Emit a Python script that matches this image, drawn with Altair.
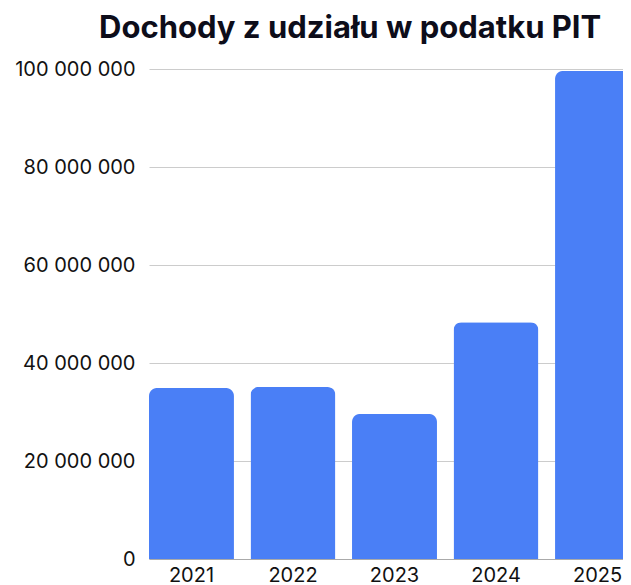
import altair as alt
import pandas as pd

years = ["2021", "2022", "2023", "2024", "2025"]
values = [34_900_000, 35_100_000, 29_600_000, 48_300_000, 99_600_000]
y_ticks = [0, 20_000_000, 40_000_000, 60_000_000, 80_000_000, 100_000_000]

df = pd.DataFrame({"rok": years, "dochody": values})

FONT = "Inter"

chart = (
    alt.Chart(df)
    .mark_bar(color="#4a7ff6", cornerRadiusTopLeft=8, cornerRadiusTopRight=8, clip=False)
    .encode(
        x=alt.X(
            "rok:N",
            sort=years,
            title=None,
            scale=alt.Scale(range=[0, 491], paddingInner=0.163, paddingOuter=0),
            axis=alt.Axis(
                labelAngle=0,
                ticks=False,
                domain=True,
                domainColor="#aaaaaa",
                labelFontSize=20,
                labelFont=FONT,
                labelColor="#111111",
                labelPadding=6,
                grid=False,
            ),
        ),
        y=alt.Y(
            "dochody:Q",
            title=None,
            scale=alt.Scale(domain=[0, 100_000_000], nice=False),
            axis=alt.Axis(
                values=y_ticks,
                labelExpr="join(split(format(datum.value, ','), ','), ' ')",
                ticks=False,
                domain=False,
                labelPadding=14,
                labelFontSize=20,
                labelFont=FONT,
                labelColor="#111111",
                gridColor="#cccccc",
            ),
        ),
    )
    .properties(
        width=474,
        height=490,
        autosize=alt.AutoSizeParams(type="none"),
        padding={"left": 141, "top": 61, "right": 0, "bottom": 26},
        title=alt.TitleParams(
            "Dochody z udziału w podatku PIT",
            anchor="start",
            frame="group",
            dx=-50,
            fontSize=31,
            font=FONT,
            fontWeight="bold",
            color="#0d0d1a",
            offset=14,
        ),
    )
    .configure_view(stroke=None)
)

chart.save("out.html", embed_options={"renderer": "svg", "actions": False})
